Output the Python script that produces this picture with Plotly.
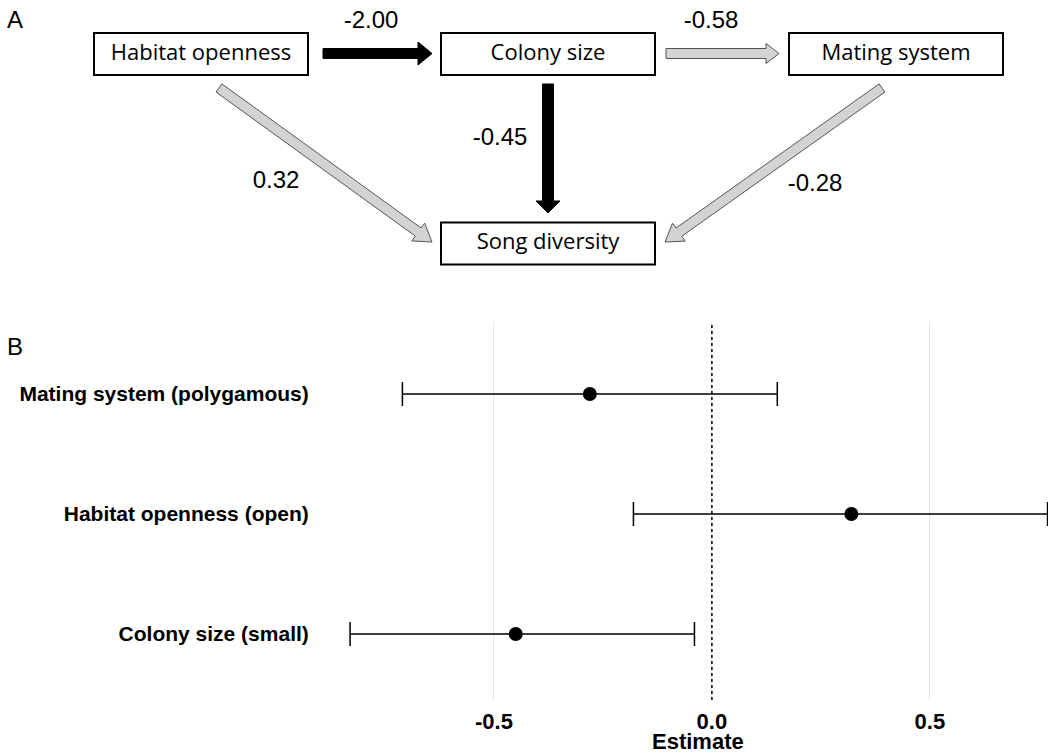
import math
import plotly.graph_objects as go

# ---------------- Data ----------------
# Panel A: path diagram
nodes = ["Habitat openness", "Colony size", "Mating system", "Song diversity"]
path_from = ["Habitat openness", "Colony size", "Colony size", "Habitat openness", "Mating system"]
path_to = ["Colony size", "Mating system", "Song diversity", "Song diversity", "Song diversity"]
path_coef = ["-2.00", "-0.58", "-0.45", "0.32", "-0.28"]
path_significant = [True, False, True, False, False]

# Panel B: coefficient plot
terms = ["Colony size (small)", "Habitat openness (open)", "Mating system (polygamous)"]
estimate = [-0.45, 0.32, -0.28]
ci_low = [-0.83, -0.18, -0.71]
ci_high = [-0.04, 0.77, 0.15]
x_tickvals = [-0.5, 0.0, 0.5]
x_ticktext = ["-0.5", "0.0", "0.5"]

# ---------------- Layout constants (pixel space for panel A) ----------------
W, H = 1048, 752
node_cx = {"Habitat openness": 201, "Colony size": 548, "Mating system": 896, "Song diversity": 548}
node_cy = {"Habitat openness": 54, "Colony size": 54, "Mating system": 54, "Song diversity": 243.5}
box_w, box_h = 214, 42
# arrow tail / tip positions and label positions (layout)
arrow_tail = [(323, 53.5), (666, 53.5), (548, 84), (219, 88), (882, 88)]
arrow_tip = [(432, 53.5), (779, 53.5), (548, 213), (432, 242), (665, 242)]
arrow_dims = [(10, 23, 14), (10, 20, 13), (11, 24, 12), (10, 22, 17), (10, 22, 17)]
label_pos = [(371, 22), (711, 22), (500, 139), (276, 182), (815, 185)]


def arrow_path(x0, y0, x1, y1, sw, hw, hl):
    dx, dy = x1 - x0, y1 - y0
    L = math.hypot(dx, dy)
    ux, uy = dx / L, dy / L
    px, py = -uy, ux
    bx, by = x1 - ux * hl, y1 - uy * hl
    pts = [
        (x0 + px * sw / 2, y0 + py * sw / 2),
        (bx + px * sw / 2, by + py * sw / 2),
        (bx + px * hw / 2, by + py * hw / 2),
        (x1, y1),
        (bx - px * hw / 2, by - py * hw / 2),
        (bx - px * sw / 2, by - py * sw / 2),
        (x0 - px * sw / 2, y0 - py * sw / 2),
    ]
    return "M " + " L ".join(f"{x:.2f},{y:.2f}" for x, y in pts) + " Z"


fig = go.Figure()

# ---------------- Panel B ----------------
fig.add_trace(go.Scatter(
    x=estimate, y=terms, mode="markers",
    marker=dict(color="black", size=14),
    error_x=dict(type="data", symmetric=False,
                 array=[h - e for h, e in zip(ci_high, estimate)],
                 arrayminus=[e - l for e, l in zip(estimate, ci_low)],
                 color="black", thickness=1.5, width=12),
    xaxis="x", yaxis="y", showlegend=False, hoverinfo="skip",
))

# ---------------- Panel A (hidden pixel axes) ----------------
fig.add_trace(go.Scatter(
    x=[node_cx[n] for n in nodes], y=[node_cy[n] for n in nodes],
    mode="text", text=nodes,
    textfont=dict(family="Open Sans", size=22, color="black"),
    xaxis="x2", yaxis="y2", showlegend=False, hoverinfo="skip",
))
fig.add_trace(go.Scatter(
    x=[p[0] for p in label_pos], y=[p[1] for p in label_pos],
    mode="text", text=path_coef,
    textfont=dict(family="Liberation Sans", size=24, color="black"),
    xaxis="x2", yaxis="y2", showlegend=False, hoverinfo="skip",
))

shapes = []
for n in nodes:
    shapes.append(dict(
        type="rect", xref="x2", yref="y2",
        x0=node_cx[n] - box_w / 2, x1=node_cx[n] + box_w / 2,
        y0=node_cy[n] - box_h / 2, y1=node_cy[n] + box_h / 2,
        line=dict(color="black", width=2), fillcolor="white", layer="below",
    ))
for (t, tp, dims, sig) in zip(arrow_tail, arrow_tip, arrow_dims, path_significant):
    shapes.append(dict(
        type="path", xref="x2", yref="y2",
        path=arrow_path(t[0], t[1], tp[0], tp[1], *dims),
        fillcolor="black" if sig else "#d3d3d3",
        line=dict(color="black" if sig else "#555555", width=1),
    ))

# dotted zero line in panel B
shapes.append(dict(type="line", xref="x", yref="y domain", x0=0, x1=0, y0=0, y1=1,
                   line=dict(color="black", width=1.5, dash="dot")))

annotations = [
    dict(text="A", x=15, y=19, xref="x2", yref="y2", showarrow=False,
         font=dict(family="Liberation Sans", size=24, color="black")),
    dict(text="B", x=15, y=346, xref="x2", yref="y2", showarrow=False,
         font=dict(family="Liberation Sans", size=24, color="black")),
    dict(text="Estimate", x=698, y=741, xref="x2", yref="y2", showarrow=False,
         font=dict(family="Liberation Sans", size=22, color="black", weight="bold")),
]

fig.update_layout(
    width=W, height=H,
    margin=dict(l=0, r=0, t=0, b=0),
    paper_bgcolor="white", plot_bgcolor="rgba(0,0,0,0)",
    shapes=shapes, annotations=annotations,
    xaxis=dict(
        domain=[320 / W, 1.0], range=[-0.899, 0.771], anchor="y",
        tickvals=x_tickvals, ticktext=x_ticktext,
        showgrid=True, gridcolor="#e6e6e6", gridwidth=1,
        zeroline=False, showline=False,
        ticks="outside", ticklen=2, tickcolor="rgba(0,0,0,0)",
        tickfont=dict(family="Liberation Sans", size=22, color="black", weight="bold"),
        automargin=False,
    ),
    yaxis=dict(
        domain=[1 - 700 / H, 1 - 322 / H], anchor="x",
        type="category", categoryorder="array", categoryarray=terms,
        range=[-0.55, 2.6],
        showgrid=False, zeroline=False, showline=False,
        ticks="outside", ticklen=6, tickcolor="rgba(0,0,0,0)",
        tickfont=dict(family="Liberation Sans", size=21, color="black", weight="bold"),
        automargin=False,
    ),
    xaxis2=dict(domain=[0, 1], range=[0, W], anchor="y2", visible=False, fixedrange=True),
    yaxis2=dict(domain=[0, 1], range=[H, 0], anchor="x2", visible=False, fixedrange=True),
)

fig.write_html(
    "out.html",
    config={"displayModeBar": False},
    post_script="document.body.style.margin='0';document.body.style.overflow='hidden';",
)
